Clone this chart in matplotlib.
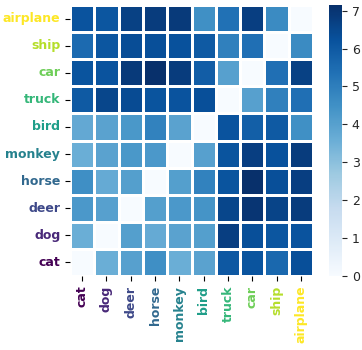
import numpy as np
import matplotlib
matplotlib.use("Agg")
import matplotlib.pyplot as plt
import seaborn as sns

# class order along the x axis (rows are the same list reversed)
classes = ["cat", "dog", "deer", "horse", "monkey", "bird", "truck", "car", "ship", "airplane"]
row_labels = classes[::-1]

# distances, rows top->bottom: airplane ... cat, columns: cat ... airplane
airplane = [6.2, 6.1, 6.7, 6.8, 6.85, 4.5, 5.35, 6.75, 4.65, 0.0]
ship     = [5.55, 6.1, 6.35, 6.3, 6.25, 6.0, 4.95, 5.4, 0.0, 4.65]
car      = [6.15, 6.2, 6.85, 7.15, 6.8, 5.9, 4.0, 0.0, 5.4, 6.7]
truck    = [6.0, 6.55, 6.4, 6.15, 6.2, 6.3, 0.0, 4.0, 4.95, 5.4]
bird     = [3.75, 3.95, 4.3, 4.9, 3.95, 0.0, 6.2, 5.85, 6.0, 4.5]
monkey   = [3.6, 3.95, 4.3, 4.25, 0.0, 4.0, 6.15, 6.75, 6.25, 6.8]
horse    = [4.55, 3.7, 4.05, 0.0, 4.05, 4.9, 6.15, 7.15, 6.3, 6.75]
deer     = [4.25, 4.0, 0.0, 4.05, 4.25, 4.4, 6.55, 7.0, 6.6, 6.8]
dog      = [3.6, 0.0, 4.05, 3.7, 3.95, 4.05, 6.75, 6.3, 6.1, 6.2]
cat      = [0.0, 3.6, 4.0, 4.55, 3.6, 3.95, 6.05, 6.15, 5.6, 6.3]

data = np.array([airplane, ship, car, truck, bird, monkey, horse, deer, dog, cat])

fig = plt.figure(figsize=(3.62, 3.5), dpi=100)
ax = fig.add_axes([70/362, 74/350, 243/362, 271/350])
cax = fig.add_axes([329/362, 74/350, 13/362, 271/350])

sns.heatmap(data, ax=ax, cbar_ax=cax, cmap="Blues", vmin=0, vmax=7.15,
            linewidths=1, linecolor="white",
            xticklabels=classes, yticklabels=row_labels)

cmap = plt.get_cmap("viridis")
ax.set_xticklabels(classes, rotation=90, fontsize=9, fontweight="bold")
ax.set_yticklabels(row_labels, rotation=0, fontsize=9, fontweight="bold")
for lab in ax.get_xticklabels():
    lab.set_color(cmap(classes.index(lab.get_text()) / 9))
for lab in ax.get_yticklabels():
    lab.set_color(cmap(classes.index(lab.get_text()) / 9))

cax.tick_params(labelsize=9, colors="#262626")
cax.set_yticks(range(8))

fig.savefig("out.png", dpi=100)
